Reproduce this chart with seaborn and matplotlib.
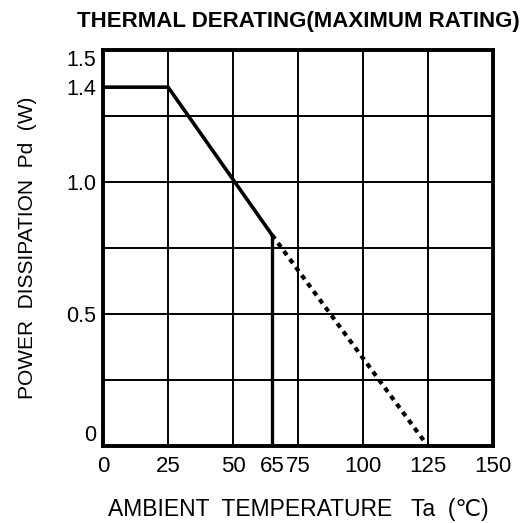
import matplotlib
matplotlib.use("Agg")
import matplotlib.pyplot as plt
import pandas as pd
import seaborn as sns

sns.set_theme(style="white")
plt.rcParams["font.family"] = ["Liberation Sans", "DejaVu Sans"]

# rated curve
solid_ta = [0, 25, 65]
solid_pd = [1.36, 1.36, 0.80]
cut_ta = [65, 65]
cut_pd = [0.80, 0.0]
dash_ta = [65, 125]
dash_pd = [0.80, 0.0]

x_ticks = [0, 25, 50, 65, 75, 100, 125, 150]
x_grid = [25, 50, 75, 100, 125]
y_ticks = [0, 0.5, 1.0, 1.36, 1.5]
y_tick_labels = ["0", "0.5", "1.0", "1.4", "1.5"]
y_grid = [0.25, 0.5, 0.75, 1.0, 1.25]

solid = pd.DataFrame({"ta": solid_ta, "pd": solid_pd})
cut = pd.DataFrame({"ta": cut_ta, "pd": cut_pd})
dash = pd.DataFrame({"ta": dash_ta, "pd": dash_pd})

fig = plt.figure(figsize=(5.21, 5.23), dpi=100)
ax = fig.add_axes([0.198, 0.147, 0.748, 0.757])

for gx in x_grid:
    ax.axvline(gx, color="black", lw=1.4, zorder=1)
for gy in y_grid:
    ax.axhline(gy, color="black", lw=1.4, zorder=1)

sns.lineplot(data=solid, x="ta", y="pd", ax=ax, color="black", lw=2.6,
             sort=False, estimator=None, zorder=3)
sns.lineplot(data=cut, x="ta", y="pd", ax=ax, color="black", lw=2.4,
             sort=False, estimator=None, zorder=3)
sns.lineplot(data=dash, x="ta", y="pd", ax=ax, color="black", lw=3,
             sort=False, estimator=None, linestyle=(0, (1.2, 1.2)), zorder=3)

ax.set_xlim(0, 150)
ax.set_ylim(0, 1.5)
ax.set_xticks(x_ticks)
ax.set_xticklabels([str(t) for t in x_ticks])
ax.set_yticks(y_ticks)
ax.set_yticklabels(y_tick_labels)
ax.tick_params(axis="x", length=0, labelsize=16, colors="black", pad=7)
ax.tick_params(axis="y", length=0, labelsize=15.5, colors="black", pad=5)

# end labels sit inside the frame, as in the datasheet
ylabs = ax.get_yticklabels()
ylabs[0].set_va("bottom")
ylabs[4].set_va("top")

for s in ax.spines.values():
    s.set_visible(True)
    s.set_color("black")
    s.set_linewidth(2.8)

ax.set_xlabel("AMBIENT  TEMPERATURE   Ta  (\u2103)", fontsize=16.5, color="black", labelpad=15)
ax.set_ylabel("POWER  DISSIPATION  Pd  (W)", fontsize=15, color="black", labelpad=21)
ax.set_title("THERMAL DERATING(MAXIMUM RATING)", fontsize=16, fontweight="heavy",
             color="black", pad=17)

fig.savefig("out.png", dpi=100)
